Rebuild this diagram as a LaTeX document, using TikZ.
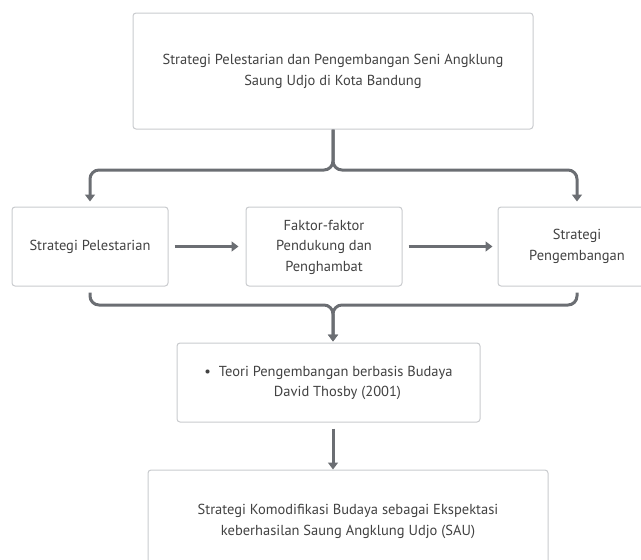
\documentclass[tikz,border=0pt]{standalone}
\usepackage{fontspec}
\setmainfont{PT Sans}
\usetikzlibrary{arrows.meta}

\definecolor{linegray}{HTML}{6B6E73}
\definecolor{boxgray}{HTML}{C9CBCE}
\definecolor{txtgray}{HTML}{424242}

\tikzset{
  box/.style={draw=boxgray, line width=1pt, rounded corners=3pt, fill=white,
    align=center, text=txtgray, font=\fontsize{14.5}{20.5}\selectfont, inner sep=0pt},
  conn/.style={draw=linegray, line width=3pt, rounded corners=9pt},
  tip/.style={-{Triangle[length=7pt,width=10pt]}}
}

\begin{document}
\begin{tikzpicture}[x=1pt, y=-1pt]
% units are pixels of the 641x560 page
\useasboundingbox (0,0) rectangle (641,560);
\clip (0,0) rectangle (641,560);
\node [box, minimum width=400, minimum height=116] (judul) at (333,71)
  {\raisebox{-3pt}{\begin{tabular}{@{}c@{}}Strategi Pelestarian dan Pengembangan Seni Angklung\\Saung Udjo di Kota Bandung\end{tabular}}};
\node [box, minimum width=156, minimum height=79] (pel) at (90,246.5) {Strategi Pelestarian};
\node [box, minimum width=156, minimum height=79] (fak) at (324,246.5)
  {\raisebox{-2pt}{\begin{tabular}{@{}c@{}}Faktor-faktor\\Pendukung dan\\Penghambat\end{tabular}}};
\node [box, minimum width=158, minimum height=79] (peng) at (577,246.5)
  {Strategi\\Pengembangan};
\node [box, minimum width=303, minimum height=79] (teori) at (328.5,382.5)
  {\raisebox{-4pt}{\begin{tabular}{@{}c@{}}\textbullet\hspace{8pt}Teori Pengembangan berbasis Budaya\\\hspace{18pt}David Thosby (2001)\end{tabular}}};
\node [box, minimum width=400, minimum height=100, text depth=0pt] (kom) at (348,520)
  {Strategi Komodifikasi Budaya sebagai Ekspektasi\\keberhasilan Saung Angklung Udjo (SAU)};
\coordinate (j1) at (333,170);
\coordinate (j2) at (333,305);
% top split
\draw [conn, tip, shorten >=5pt] (judul.south -| j1) -- (j1) -| (pel.north);
\draw [conn, tip, shorten >=5pt] (judul.south -| j1) -- (j1) -| (peng.north);
% middle row
\draw [conn, tip, shorten <=6pt, shorten >=7pt] (pel.east) -- (fak.west);
\draw [conn, tip, shorten <=6pt, shorten >=5pt] (fak.east) -- (peng.west);
% join
\draw [conn, tip, shorten <=6pt, shorten >=1pt] (pel.south) |- (j2) -- (j2 |- teori.north);
\draw [conn, tip, shorten <=6pt, shorten >=1pt] (peng.south) |- (j2) -- (j2 |- teori.north);
\draw [conn, tip, shorten <=6pt] (teori.south -| j2) -- (kom.north -| j2);
\end{tikzpicture}
\end{document}
